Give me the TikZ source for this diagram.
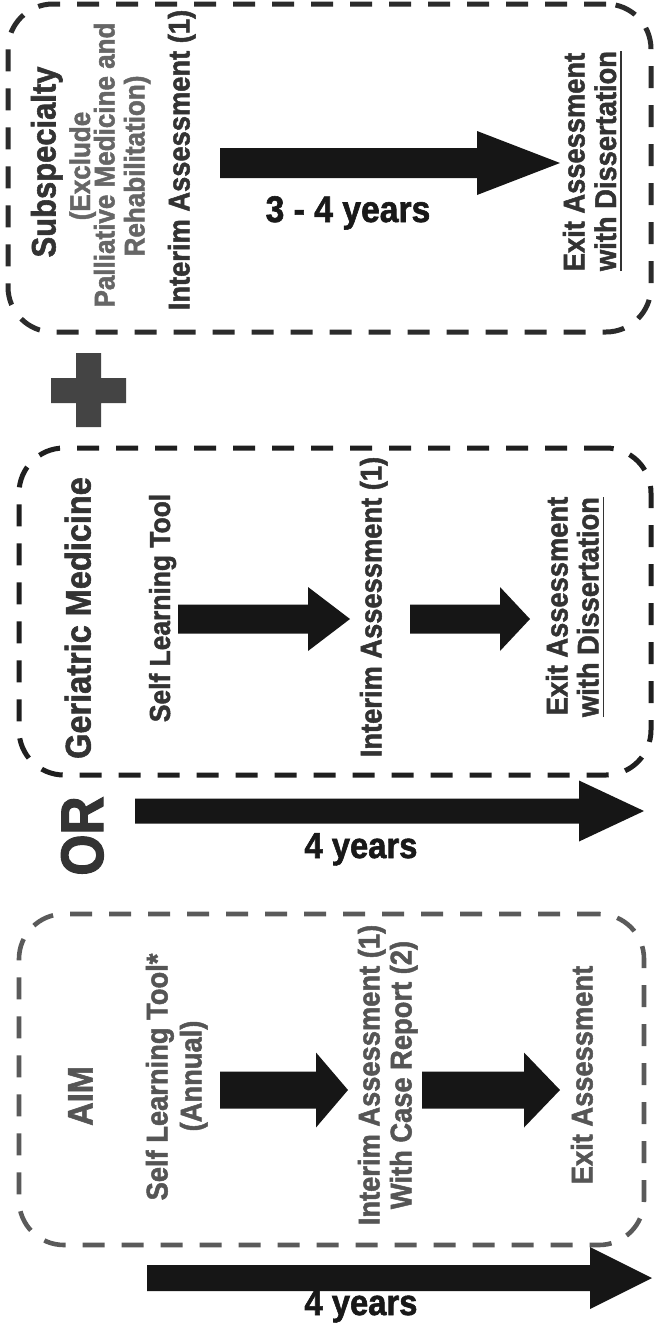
\documentclass[tikz,border=0pt]{standalone}
\usepackage{fontspec}
\setmainfont{Liberation Sans}[BoldFeatures={FakeBold=1.6}]
\newfontfamily\tf{Liberation Sans}[FakeStretch=0.91, BoldFeatures={FakeBold=1.6}]
\newfontfamily\narrowf{Liberation Sans}[FakeStretch=0.91, BoldFeatures={FakeBold=1.6}]
\newfontfamily\orf{Liberation Sans}[FakeStretch=0.88, BoldFeatures={FakeBold=2}]
\definecolor{boxdark}{HTML}{2B2B2B}
\definecolor{boxgrey}{HTML}{5A5A5A}
\definecolor{txtdark}{HTML}{333333}
\definecolor{txtgrey}{HTML}{666666}
\definecolor{aimgrey}{HTML}{555555}
\definecolor{arrowfill}{HTML}{161616}
\definecolor{plusgrey}{HTML}{444444}
\newcommand\blockarr[6]{%
  \fill[arrowfill] ({#1},{#4-#5}) -- ({#2},{#4-#5}) -- ({#2},{#4-#6}) -- ({#3},{#4})
    -- ({#2},{#4+#6}) -- ({#2},{#4+#5}) -- ({#1},{#4+#5}) -- cycle;}
\begin{document}
\begin{tikzpicture}[x=1pt,y=-1pt,
  box/.style={draw=boxdark, line width=5pt, dash pattern=on 22pt off 17pt,
    rounded corners=45pt, inner sep=0pt, fill=none},
  rt/.style={rotate=90, anchor=base, inner sep=0pt, text=txtdark,
    font=\tf\bfseries\fontsize{30}{34}\selectfont},
  title/.style={rt, font=\tf\bfseries\fontsize{34}{38}\selectfont},
  subnote/.style={rt, text=txtgrey, font=\tf\bfseries\fontsize{28.6}{32}\selectfont},
  aim/.style={rt, text=aimgrey},
  years/.style={anchor=base, inner sep=0pt, text=black!90,
    font=\narrowf\bfseries\fontsize{37}{40}\selectfont}]
\useasboundingbox (0,0) rectangle (654,1323);
\fill[white] (0,0) rectangle (654,1323);

% ---- Subspecialty box ----
\node[box, minimum width=643pt, minimum height=328pt] (boxsub) at (329.5,168) {};
\node[title] (subtitle) at (55.5,162) {Subspecialty};
\node[subnote] (excl1) at (90,166) {(Exclude};
\node[subnote] (excl2) at (114.5,165) {Palliative Medicine and};
\node[subnote] (excl3) at (144.5,166) {Rehabilitation)};
\node[rt] (subint) at (189.5,160) {Interim Assessment (1)};
\node[rt] (subexit) at (584.5,162) {Exit Assessment};
\node[rt] (subdiss) at (616,161) {with Dissertation};
\draw[txtdark, line width=1.5pt] ([xshift=5pt]subdiss.base west) -- ([xshift=5pt]subdiss.base east);
\blockarr{220}{477}{560}{163}{15}{32}
\node[years] (subyears) at (348,222) {3 - 4 years};

% ---- plus ----
\fill[plusgrey] (76,353) -- (101,353) -- (101,378) -- (126,378) -- (126,403) -- (101,403)
  -- (101,427) -- (76,427) -- (76,403) -- (51,403) -- (51,378) -- (76,378) -- cycle;

% ---- Geriatric Medicine box ----
\node[box, draw=black!88, minimum width=632pt, minimum height=327pt] (boxger) at (335,611.5) {};
\node[title, font=\tf\bfseries\fontsize{35.7}{40}\selectfont] (gertitle) at (90.6,618) {Geriatric Medicine};
\node[rt, font=\tf\bfseries\fontsize{29}{33}\selectfont] (gerself) at (170,608) {Self Learning Tool};
\node[rt] (gerint) at (381.5,607) {Interim Assessment (1)};
\node[rt] (gerexit) at (567.5,606) {Exit Assessment};
\node[rt] (gerdiss) at (598.5,607) {with Dissertation};
\draw[txtdark, line width=1.5pt] ([xshift=5pt]gerdiss.base west) -- ([xshift=5pt]gerdiss.base east);
\blockarr{178}{308}{350}{619}{14.5}{32}
\blockarr{410}{500}{530}{619}{14.5}{32}

% ---- OR ----
\node[rotate=90, anchor=base, inner sep=0pt, text=txtdark,
  font=\orf\bfseries\fontsize{60}{60}\selectfont] (ortext) at (103,836) {OR};
\blockarr{135}{579}{644}{811}{12.5}{30.5}
\node[years, font=\narrowf\bfseries\fontsize{36}{40}\selectfont] (geryears) at (361,858) {4 years};

% ---- AIM box ----
\node[box, draw=boxgrey, line width=4.6pt, minimum width=625pt, minimum height=331pt] (boxaim) at (331.5,1079.5) {};
\node[aim, font=\tf\bfseries\fontsize{35.7}{40}\selectfont] (aimtitle) at (92.6,1096) {AIM};
\node[aim] (aimself) at (167.5,1077) {Self Learning Tool*};
\node[aim] (aimannual) at (201.5,1076) {(Annual)};
\node[aim] (aimint) at (379.5,1075) {Interim Assessment (1)};
\node[aim] (aimcase) at (411.5,1075) {With Case Report (2)};
\node[aim] (aimexit) at (592.5,1075) {Exit Assessment};
\blockarr{220}{316}{348}{1090}{18.5}{37.5}
\blockarr{422}{524}{560}{1090}{18.5}{37.5}
\blockarr{147}{590}{652}{1278}{13}{31}
\node[years, font=\narrowf\bfseries\fontsize{36}{40}\selectfont] (aimyears) at (361,1315) {4 years};
\end{tikzpicture}
\end{document}
